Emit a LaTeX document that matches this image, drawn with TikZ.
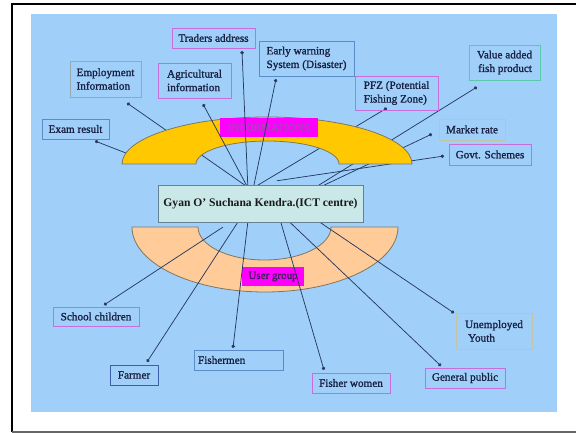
\documentclass[tikz,border=0pt]{standalone}
\usepackage{fontspec}
\setmainfont{Liberation Serif}
\newfontface\lblface{Liberation Serif}[FakeBold=1.3]
\newfontface\tagface{Liberation Serif}[FakeBold=0.8]
\usetikzlibrary{arrows.meta}
\definecolor{bgblue}{RGB}{160,208,250}
\definecolor{gold}{RGB}{255,200,0}
\definecolor{peach}{RGB}{255,204,153}
\definecolor{arcline}{RGB}{125,118,100}
\definecolor{mag}{RGB}{255,0,255}
\definecolor{infotxt}{RGB}{165,70,185}
\definecolor{ugtxt}{RGB}{55,30,85}
\definecolor{ctrfill}{RGB}{202,232,232}
\definecolor{ctrdraw}{RGB}{100,130,150}
\definecolor{conn}{RGB}{40,58,95}
\definecolor{txt}{RGB}{25,32,65}
\definecolor{bOrchid}{RGB}{200,110,220}
\definecolor{bSteel}{RGB}{90,140,200}
\definecolor{bBlue}{RGB}{60,95,170}
\definecolor{bGray}{RGB}{150,168,178}
\definecolor{bBeige}{RGB}{195,195,165}
\definecolor{bTeal}{RGB}{90,200,170}
\tikzset{
  lbl/.style={draw, line width=0.9pt, inner sep=0pt, text=txt, align=center,
    font=\lblface\fontsize{11.2}{13.6}\selectfont},
  conn/.style={draw=conn, line width=0.75pt, -{Circle[length=3.4pt,fill=conn]}},
}
\begin{document}
\begin{tikzpicture}[x=1pt,y=-1pt]
\useasboundingbox (0,0) rectangle (576,433);
% frame
\draw[line width=1.6pt,black] (12,432) -- (12,4) -- (577,4);
\draw[line width=1.2pt,black!60] (12,432) -- (577,432);
% background
\fill[bgblue] (31,14) rectangle (557,412);

% centre node placeholder (drawn on top later)
\node[minimum width=205, minimum height=36, inner sep=0pt] (ctr) at (260.5,204) {};

% coordinates for connector ends
\coordinate (dExam) at (95,141);
\coordinate (eExam) at (131,155);
\coordinate (dEmp) at (127,103);
\coordinate (dAgri) at (203,104);
\coordinate (dTrad) at (242,51);
\coordinate (dEarly) at (276,79);
\coordinate (dPfz) at (387,108);
\coordinate (dVal) at (477,87);
\coordinate (dMkt) at (432,134);
\coordinate (dGovt) at (444,156);
\coordinate (dSchool) at (104,305);
\coordinate (dFarm) at (147,362);
\coordinate (dFishm) at (233,348);
\coordinate (dFishw) at (324,370);
\coordinate (dGen) at (441,366);
\coordinate (dUnemp) at (454,313);

% connectors under the yellow arc
\draw[conn] (eExam) -- (dExam);
\draw[conn] ([xshift=88]ctr.north west) -- (dEmp);
\draw[conn] ([xshift=99]ctr.north west) -- (dPfz);
\draw[conn] ([xshift=160]ctr.north west) -- (dVal);
\draw[conn] ([xshift=165]ctr.north west) -- (dMkt);
\draw[conn] ([xshift=119,yshift=5]ctr.north west) -- (dGovt);

% yellow arc
\fill[gold, draw=arcline, line width=0.8pt]
  (122,164) arc[start angle=180, end angle=360, x radius=145, y radius=47]
  -- (339,164) arc[start angle=0, end angle=-180, x radius=71.5, y radius=23]
  -- cycle;
\node[fill=mag, minimum width=98, minimum height=19, inner sep=0pt,
  text=infotxt, font=\tagface\fontsize{11}{13}\selectfont] (info) at (269,127.5) {INFORMATIONS};

% connectors over the yellow arc
\draw[conn] ([xshift=89]ctr.north west) -- (dAgri);
\draw[conn] ([xshift=90]ctr.north west) -- (dTrad);
\draw[conn] ([xshift=96]ctr.north west) -- (dEarly);

% peach arc
\fill[peach, draw=arcline, line width=0.8pt]
  (132,227) arc[start angle=180, end angle=0, x radius=133, y radius=65]
  -- (331,227) arc[start angle=0, end angle=180, x radius=66.5, y radius=33]
  -- cycle;
\node[fill=mag, minimum width=62, minimum height=19, inner sep=0pt,
  text=ugtxt, font=\tagface\fontsize{11}{13}\selectfont] (ug) at (273,276.5) {User group};

% connectors of the user groups
\draw[conn] ([xshift=65,yshift=-5]ctr.south west) -- (dSchool);
\draw[conn] ([xshift=80]ctr.south west) -- (dFarm);
\draw[conn] ([xshift=90]ctr.south west) -- (dFishm);
\draw[conn] ([xshift=123]ctr.south west) -- (dFishw);
\draw[conn] ([xshift=132]ctr.south west) -- (dGen);
\draw[conn] ([xshift=162]ctr.south west) -- (dUnemp);

% centre box
\node[draw=ctrdraw, fill=ctrfill, line width=1pt, minimum width=205, minimum height=36,
  inner sep=0pt, font=\bfseries\fontsize{11.6}{14}\selectfont, text=black!90]
  at (ctr) {Gyan O' Suchana Kendra.(ICT centre)};

% label boxes
\node[lbl, draw=bOrchid, minimum width=83, minimum height=20] (trad) at (213.5,38) {Traders address};
\node[lbl, draw=bSteel, minimum width=95, minimum height=35, align=left] (early) at (306.5,58.5) {Early warning\\System (Disaster)};
\node[lbl, draw=bGray, minimum width=71, minimum height=36, align=left] (emp) at (105.5,79) {Employment\\Information};
\node[lbl, draw=bOrchid, minimum width=73, minimum height=35, align=left] (agri) at (194.5,80.5) {Agricultural\\information};
\node[lbl, draw=bOrchid, minimum width=83, minimum height=34, align=left] (pfz) at (396.5,93) {PFZ (Potential\\Fishing Zone)};
\node[lbl, draw=bTeal, minimum width=71, minimum height=35, align=right] (val) at (504.5,62.5) {Value added\\fish product};
\node[lbl, draw=bSteel, minimum width=67, minimum height=20] (exam) at (75.5,129) {Exam result};
\node[lbl, draw=bBeige, minimum width=66, minimum height=21] (mkt) at (472,129.5) {Market rate};
\node[lbl, draw=bOrchid, minimum width=82, minimum height=21] (govt) at (490,154.5) {Govt. Schemes};
\node[lbl, draw=bOrchid, minimum width=86, minimum height=19] (school) at (96,316.5) {School children};
\node[lbl, draw=bBlue, minimum width=48, minimum height=20] (farm) at (134,375) {Farmer};
\node[lbl, draw=bSteel, minimum height=20, text width=81, align=left, inner xsep=4pt] (fishm) at (238.5,360) {Fishermen};
\node[lbl, draw=bOrchid, minimum width=78, minimum height=20] (fishw) at (351,383) {Fisher women};
\node[lbl, draw=bOrchid, minimum width=80, minimum height=20] (gen) at (465,378) {General public};
\node[lbl, draw=bBeige, minimum width=76, minimum height=36, align=left] (unemp) at (494,331) {Unemployed\\\hspace{3pt}Youth};
\end{tikzpicture}
\end{document}
